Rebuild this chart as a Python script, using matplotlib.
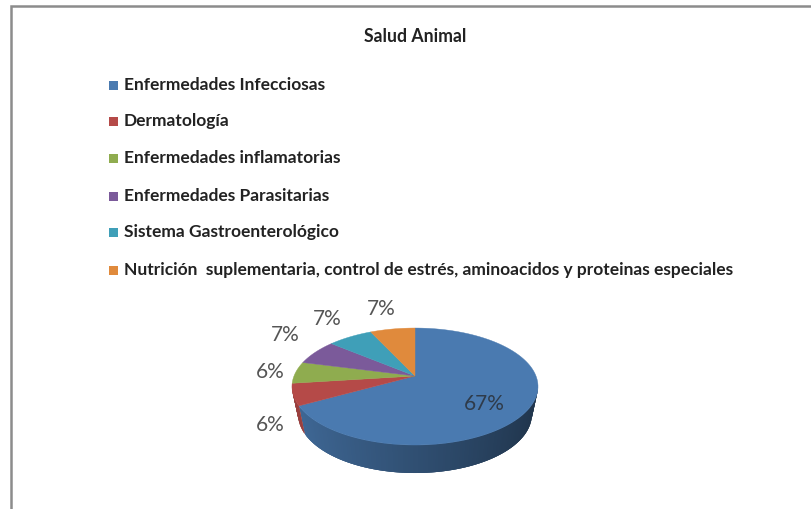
import numpy as np
import matplotlib
matplotlib.use("Agg")
import matplotlib.pyplot as plt
from matplotlib.patches import Rectangle

# Data
categories = ["Enfermedades Infecciosas", "Dermatología", "Enfermedades inflamatorias",
              "Enfermedades Parasitarias", "Sistema Gastroenterológico",
              "Nutrición  suplementaria, control de estrés, aminoacidos y proteinas especiales"]
values = [67, 6, 6, 7, 7, 7]
colors = ["#4a7ab0", "#b54a48", "#8fac4f", "#7b5a9a", "#3f9fb8", "#e08a3c"]
title = "Salud Animal"

# Layout in pixels
cx, cy = 415, 376
X, Y, k = 121, 56.6, 0.18  # perspective of the tilted disc
depth = 28
bottom_scale = 0.95  # bottom rim looks narrower than the top
legend_y = [85, 121, 158, 196, 232, 270]
label_xy = [(484, 404), (270, 425), (270, 372), (285, 335), (327, 319), (381, 309)]


def project(a):
    # a = clockwise angle from the top, in radians
    u, v = np.sin(a), np.cos(a)
    w = 1 + k * v
    return cx + X * u / w, cy - Y * v / w


def shade(color, f):
    return tuple(c * f for c in matplotlib.colors.to_rgb(color))


def lower(x):
    return cx + (x - cx) * bottom_scale


plt.rcParams['font.family'] = ['Lato', 'DejaVu Sans']
fig = plt.figure(figsize=(8.11, 5.09), dpi=100)
ax = fig.add_axes([0, 0, 1, 1])
ax.set_xlim(0, 811)
ax.set_ylim(509, 0)
ax.axis('off')

# chart border
ax.plot([11, 11, 811], [509, 6, 6], color="#8c8c8c", lw=1.8, solid_joinstyle='miter')

ax.text(415, 36, title, ha='center', va='center', fontsize=12.7, fontweight='bold', color="#222222")

for name, col, y in zip(categories, colors, legend_y):
    ax.add_patch(Rectangle((109, y - 4), 9, 9, facecolor=col, edgecolor='none'))
    ax.text(124, y, name, ha='left', va='center', fontsize=12.5, fontweight='bold', color="#222222")

edges = np.radians(np.cumsum([0] + values) / sum(values) * 360)

# side wall, drawn as overlapping strips so it can darken to the right
for i, col in enumerate(colors):
    aa = np.linspace(edges[i], edges[i + 1], 240)
    for a0, a1 in zip(aa[:-3], aa[3:]):
        if np.cos(a0) > -0.18 or np.cos(a1) > -0.18:
            continue
        x0, y0 = project(a0)
        x1, y1 = project(a1)
        f = 0.42 + 0.45 * (1 - np.sin((a0 + a1) / 2)) / 2
        ax.fill([x0, x1, lower(x1), lower(x0)], [y0, y1, y1 + depth, y0 + depth],
                color=shade(col, f), lw=0)

# top face
for i, col in enumerate(colors):
    aa = np.linspace(edges[i], edges[i + 1], 120)
    xs, ys = project(aa)
    ax.fill(np.r_[cx, xs], np.r_[cy, ys], color=col, lw=0.3)

for v, (x, y), i in zip(values, label_xy, range(6)):
    ax.text(x, y, f"{v}%", ha='center', va='center', fontsize=15,
            color="#2f3b4a" if i == 0 else "#555555")

fig.savefig("out.png", dpi=100)
